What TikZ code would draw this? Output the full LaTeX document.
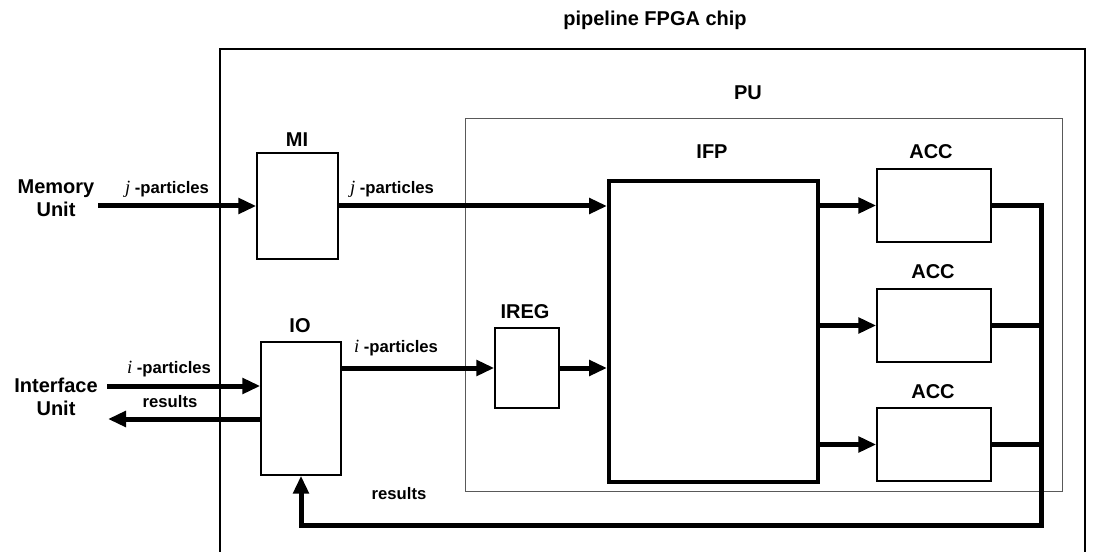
\documentclass[tikz,border=0pt]{standalone}
\usepackage{fontspec}
\setmainfont{Liberation Sans}
\newfontfamily\varfont{Liberation Serif}
\newcommand{\pvar}[1]{{\varfont\mdseries\itshape\fontsize{14}{16}\selectfont #1}}
\usetikzlibrary{arrows.meta,positioning}

\begin{document}
\begin{tikzpicture}[
  x=0.75pt, y=-0.75pt,
  unit/.style={draw, line width=1.1pt, inner sep=0pt},
  acc/.style={unit, minimum width=85.5pt, minimum height=54.75pt},
  lbl/.style={font=\fontsize{15}{17.25}\selectfont\bfseries},
  sig/.style={font=\fontsize{12.5}{14}\selectfont\bfseries},
  bus/.style={line width=3.75pt, -{Triangle[length=13.5pt,width=11.5pt]}},
  wire/.style={line width=3.75pt},
]
  \useasboundingbox (0,0) rectangle (1095,552);

  % chip and processing unit
  \node[unit, minimum width=648.75pt, minimum height=413.25pt] (chip) at (652.5,324.5) {};
  \node[draw=gray!70!black, line width=0.75pt, inner sep=0pt,
    minimum width=447.75pt, minimum height=279pt] (pu) at (763.5,305) {};
  \node[lbl] (chiplbl) at (655,20) {pipeline FPGA chip};
  \node[lbl] (pulbl) at (748,93) {PU};

  % blocks
  \node[unit, minimum width=60.75pt, minimum height=79.5pt] (mi) at (297.5,206) {};
  \node[unit, minimum width=60pt, minimum height=99.75pt] (io) at (301,408.5) {};
  \node[unit, minimum width=48pt, minimum height=60pt] (ireg) at (527,368) {};
  \node[unit, line width=3pt, minimum width=156.75pt, minimum height=225.75pt] (ifp) at (713.5,331.5) {};
  \node[acc] (acc1) at (934,205.5) {};
  \node[acc] (acc2) at (934,325.5) {};
  \node[acc] (acc3) at (934,444.5) {};

  \node[lbl] (milbl) at (297,140) {MI};
  \node[lbl] (iolbl) at (300,326) {IO};
  \node[lbl] (reglbl) at (525,312) {IREG};
  \node[lbl] (ifplbl) at (712,152) {IFP};
  \node[lbl] (acclbl1) at (931,152) {ACC};
  \node[lbl] (acclbl2) at (933,272) {ACC};
  \node[lbl] (acclbl3) at (933,392) {ACC};

  % outside units
  \node[lbl, align=center] (mem) at (56,198) {Memory\\Unit};
  \node[lbl, align=center] (intf) at (56,397) {Interface\\Unit};
  \coordinate (memin) at (98,206);
  \coordinate (ifin) at (107,386);
  \coordinate (ifout) at (108,419);
  \coordinate (ret) at (1041,525);

  % data paths
  \draw[bus] (memin) -- (mi.west);
  \draw[bus] (mi.east) -- (mi.east -| ifp.west);
  \draw[bus] (ifin) -- (ifin -| io.west);
  \draw[bus] (ifout -| io.west) -- (ifout);
  \draw[bus] (io.east |- ireg.west) -- (ireg.west);
  \draw[bus] (ireg.east) -- (ireg.east -| ifp.west);
  \foreach \k in {1,2,3}
    \draw[bus] (ifp.east |- acc\k.west) -- (acc\k.west);
  \draw[bus] (acc1.east) -- (acc1.east -| ret) -- (ret) -- (ret -| io.south) -- (io.south);
  \draw[wire] (acc2.east) -- (acc2.east -| ret);
  \draw[wire] (acc3.east) -- (acc3.east -| ret);

  % signal labels
  \node[sig] (jlbl1) at (167,189) {\pvar{j} -particles};
  \node[sig] (jlbl2) at (392,189) {\pvar{j} -particles};
  \node[sig] (ilbl1) at (169,369) {\pvar{i} -particles};
  \node[sig] (ilbl2) at (396,348) {\pvar{i} -particles};
  \node[sig] (reslbl1) at (170,402) {results};
  \node[sig] (reslbl2) at (399,494) {results};
\end{tikzpicture}
\end{document}
